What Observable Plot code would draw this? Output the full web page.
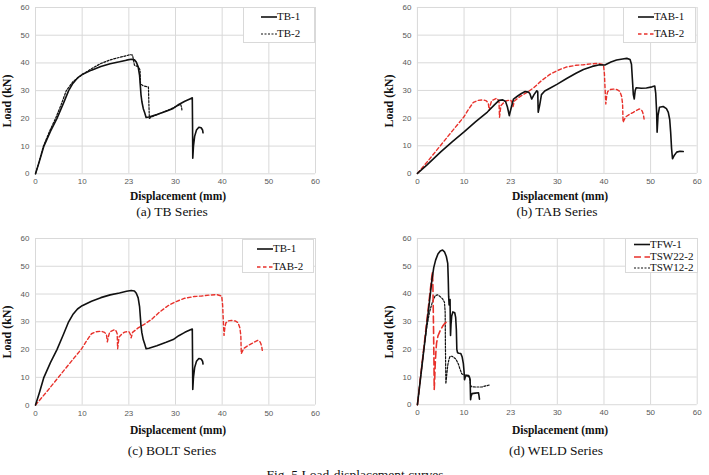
<!DOCTYPE html>
<html>
<head>
<meta charset="utf-8">
<script src="https://cdn.jsdelivr.net/npm/d3@7"></script>
<script src="https://cdn.jsdelivr.net/npm/@observablehq/plot@0.6"></script>
<style>
  html, body { margin: 0; padding: 0; background: #fff; }
  #fig { position: relative; width: 709px; height: 475px; overflow: hidden; background: #fff; }
  .panel { position: absolute; }
  .panel svg { overflow: visible; }
  .t { position: absolute; font-family: "Liberation Serif", "Times New Roman", serif; color: #111; white-space: nowrap; }
  .axt { font-weight: bold; font-size: 11.5px; transform: translateX(-50%); }
  .ayt { font-weight: bold; font-size: 12px; transform: translate(-50%, -50%) rotate(-90deg); }
  .cap { font-size: 13.5px; transform: translateX(-50%); }
  .legend { position: absolute; background: #fff; border: 1px solid #d9d9d9; box-sizing: border-box; }
  .legend svg { position: absolute; left: 0; top: 0; overflow: visible; }
  .legend span { position: absolute; font-family: "Liberation Serif", "Times New Roman", serif; font-size: 11px; color: #111; line-height: 1; transform: translateY(-52%); }
</style>
</head>
<body>
<div id="fig"></div>
<script>
// Load–displacement records, [displacement (mm), load (kN)]
const tb1 = [[0,0],[0.8,4.3],[1.8,10],[3.2,15.3],[4.6,20],[6,25.5],[7.1,30],[8,32.6],[9,34.6],[10,35.8],[12,37.4],[14,38.7],[16,39.7],[18,40.4],[19.5,41],[20.5,41.3],[21.2,41.1],[21.6,40.3],[22,38.6],[22.3,35.5],[22.5,31],[22.6,28.6],[22.8,26],[23.1,23.5],[23.4,22],[23.7,20.3],[24.3,20.5],[26,21.4],[28,22.6],[29.5,23.6],[30.7,25],[32,26.2],[33.2,27.1],[33.6,27.4],[33.65,18],[33.7,5.6],[33.85,10],[34.1,13.5],[34.5,15.8],[35,16.8],[35.5,16.6],[35.8,15.8],[35.9,14.8]];
const tb2 = [[0,0],[0.8,4.6],[1.7,10],[3,15.3],[4.3,20],[5.5,25],[6.6,30],[8,33.2],[10,35.8],[12,37.9],[14,39.8],[16,41.1],[18,42],[19.5,42.6],[20.3,43],[20.8,42.8],[21,41],[21.2,39.2],[22,38.6],[22.4,37.5],[22.5,32.5],[23,31.8],[24.2,31.3],[24.3,25],[24.4,20],[25,20.6],[27,22],[29,23.4],[30.5,24.6],[31.1,25.1],[31.3,24],[31.4,22.7]];
const tab1 = [[0,0],[2,3],[5,7.8],[7.5,11.5],[10,15],[12.5,18.7],[15,22.2],[16.5,24.8],[17.5,26.4],[18.3,26.6],[18.9,26],[19.3,24],[19.7,20.9],[20,23],[20.6,26.9],[21.5,28],[22.3,28.9],[23.1,29.6],[23.8,29.4],[24.1,28.9],[24.5,26.9],[25,28.5],[25.6,29.9],[25.8,29.5],[25.9,22.1],[26.2,24.5],[26.6,28.5],[27.3,29.8],[28.4,30.8],[30,32.3],[32,34.3],[34,36.2],[35.6,37.6],[37.5,38.7],[39.1,39.3],[40.2,39.2],[41.5,40.3],[42.7,41],[44,41.4],[44.9,41.6],[45.6,41.2],[45.9,39.5],[46.1,34],[46.3,28.5],[46.5,26.9],[46.7,30],[46.9,31],[48,30.8],[49.1,30.9],[50.3,31.3],[50.9,31.6],[51.1,29],[51.3,22],[51.4,14.9],[51.6,21],[51.9,23.9],[52.7,24.2],[53.4,23.4],[53.8,22.1],[54.1,19.5],[54.3,15],[54.5,9],[54.7,5.3],[55.1,6.6],[55.6,7.7],[56.3,8],[57,7.9]];
const tab2 = [[0,0],[2.5,5],[5,10.2],[7.5,15.4],[9.9,20.3],[11,23.3],[12,25.7],[13,26.4],[14.1,26.6],[14.8,26.2],[15.2,25.4],[15.4,22.8],[15.6,24.5],[15.9,26.3],[16.5,26.8],[17,27.2],[17.3,26.6],[17.5,25.7],[17.6,20.3],[17.9,24.5],[18.5,25.6],[19.1,26.3],[20,26.5],[20.3,25.6],[20.5,24.2],[20.8,26.2],[22,27.8],[23.5,29.3],[24.9,30.9],[26.5,33.4],[28.4,35.8],[30,37.2],[32,38.5],[34,39.1],[35.6,39.3],[37.2,39.6],[38.8,39.8],[39.9,39.3],[40.1,36],[40.2,32],[40.4,25.1],[40.6,28.2],[40.8,29.6],[41.3,30.3],[42,30.5],[42.8,30.3],[43.4,29.7],[43.8,27.8],[44,25],[44.1,18.5],[44.4,19.6],[44.7,20.5],[45.5,21.4],[46.3,22.1],[47,22.8],[47.6,23.3],[48.1,22.8],[48.3,22.1],[48.5,20.8],[48.6,19.7]];
const tfw1 = [[0,0],[0.8,11.5],[1.6,23],[2.4,34.5],[3.1,45],[3.5,49.5],[3.9,52.2],[4.4,54.4],[4.9,55.5],[5.4,55.8],[5.8,55.2],[6.2,53.5],[6.5,51],[6.6,46],[6.7,39],[6.8,36],[6.9,37],[7.0,38],[7.05,30],[7.1,25],[7.2,29],[7.35,32],[7.6,33.5],[8.0,33.2],[8.2,31.5],[8.35,27],[8.45,20],[8.6,18.8],[8.9,18.6],[9.3,18.5],[9.6,17.2],[9.85,14.8],[10.0,12],[10.1,9],[10.25,10],[10.5,10.6],[11.0,10.5],[11.2,9.8],[11.3,9],[11.4,1.8],[11.5,3],[11.7,4],[12.4,4.2],[13.1,4.3],[13.2,3.3],[13.3,2]];
const tsw22 = [[0,0],[0.8,12],[1.6,24],[2.4,36],[3.1,46.5],[3.25,48],[3.35,40],[3.45,28],[3.55,15],[3.6,5.5],[3.7,9],[3.8,14],[3.95,18.8],[4.1,22.2],[4.4,24.8],[4.9,26.8],[5.4,28.3],[5.8,29.2],[6.3,30]];
const tsw12 = [[0,0],[0.6,9],[1.3,19],[2.0,28],[2.6,33.5],[3.2,37],[3.8,39.3],[4.3,39.7],[4.9,39],[5.4,38.2],[5.8,37],[5.95,33.4],[6.0,22],[6.1,7.6],[6.3,11],[6.5,14.2],[6.75,16.3],[7.0,17.5],[7.4,17.5],[7.7,17.2],[8.1,16.7],[8.4,16],[8.8,14.6],[9.1,13],[9.5,11.2],[9.8,10.9],[10.1,10.8],[10.6,10.6],[11.1,10],[11.3,8.8],[11.4,7],[11.6,6.5],[12.5,6.4],[13.8,6.4],[14.7,6.8],[15.6,7.2]];

// axis ticks (the 20 mm tick is printed as "23" on these charts)
const xTicks = [0, 10, 20, 30, 40, 50, 60];
const xTickLabels = ["0", "10", "23", "30", "40", "50", "60"];
const yTicks = [0, 10, 20, 30, 40, 50, 60];

const RED = "#e8312b";
const styles = {
  solid:   {stroke: "#111", strokeWidth: 1.6},
  dotted:  {stroke: "#111", strokeWidth: 1.2, strokeDasharray: "2,1.5"},
  redDash: {stroke: RED, strokeWidth: 1.4, strokeDasharray: "3.5,2.5"},
  redLong: {stroke: RED, strokeWidth: 1.6, strokeDasharray: "7,3.5"}
};

const fig = document.getElementById("fig");

function addText(cls, text, left, top) {
  const el = document.createElement("div");
  el.className = "t " + cls;
  el.textContent = text;
  el.style.left = left + "px";
  el.style.top = top + "px";
  fig.appendChild(el);
}

// one load–displacement panel; frame = pixel box of the 0–60 × 0–60 area
function panel(frame, series) {
  const mL = 35, mR = 12, mT = 7, mB = 20;
  const w = frame.x1 - frame.x0, h = frame.y0 - frame.y1;
  const chart = Plot.plot({
    width: w + mL + mR,
    height: h + mT + mB,
    marginLeft: mL, marginRight: mR, marginTop: mT, marginBottom: mB,
    style: {fontFamily: "'Liberation Sans', Arial, sans-serif", fontSize: "8px", color: "#595959", background: "transparent"},
    x: {domain: [0, 60]},
    y: {domain: [0, 60]},
    marks: [
      Plot.gridX(xTicks, {stroke: "#d9d9d9", strokeOpacity: 1}),
      Plot.gridY(yTicks, {stroke: "#d9d9d9", strokeOpacity: 1}),
      Plot.axisX({ticks: xTicks, tickSize: 0, tickPadding: 5, tickFormat: (d, i) => xTickLabels[i], label: null, fill: "#595959"}),
      Plot.axisY({ticks: yTicks, tickSize: 0, tickPadding: 6, label: null, fill: "#595959"}),
      ...series.map(s => Plot.line(s.data, {x: d => d[0], y: d => d[1], ...styles[s.style]}))
    ]
  });
  const holder = document.createElement("div");
  holder.className = "panel";
  holder.style.left = (frame.x0 - mL) + "px";
  holder.style.top = (frame.y1 - mT) + "px";
  holder.appendChild(chart);
  fig.appendChild(holder);
}

// boxed key: rect in pixels, rows at given vertical offsets
function legend(box, rows) {
  const el = document.createElement("div");
  el.className = "legend";
  el.style.left = box.left + "px";
  el.style.top = box.top + "px";
  el.style.width = box.width + "px";
  el.style.height = box.height + "px";
  const ns = "http://www.w3.org/2000/svg";
  const svg = document.createElementNS(ns, "svg");
  svg.setAttribute("width", box.width);
  svg.setAttribute("height", box.height);
  rows.forEach(r => {
    const st = styles[r.style];
    const ln = document.createElementNS(ns, "line");
    ln.setAttribute("x1", box.sample);
    ln.setAttribute("x2", box.sample + 16);
    ln.setAttribute("y1", r.dy);
    ln.setAttribute("y2", r.dy);
    ln.setAttribute("stroke", st.stroke);
    ln.setAttribute("stroke-width", st.strokeWidth);
    if (st.strokeDasharray) ln.setAttribute("stroke-dasharray", st.strokeDasharray);
    svg.appendChild(ln);
    const sp = document.createElement("span");
    sp.textContent = r.label;
    sp.style.left = (box.sample + 16) + "px";
    sp.style.top = r.dy + "px";
    el.appendChild(sp);
  });
  el.appendChild(svg);
  fig.appendChild(el);
}

const fA = {x0: 35, x1: 315, y1: 6.7, y0: 173};
const fB = {x0: 417.3, x1: 697.7, y1: 6.7, y0: 173};
const fC = {x0: 35, x1: 315, y1: 237.7, y0: 404.3};
const fD = {x0: 417.3, x1: 697.7, y1: 237.7, y0: 404.3};

panel(fA, [{data: tb2, style: "dotted"}, {data: tb1, style: "solid"}]);
panel(fB, [{data: tab2, style: "redDash"}, {data: tab1, style: "solid"}]);
panel(fC, [{data: tab2, style: "redDash"}, {data: tb1, style: "solid"}]);
panel(fD, [{data: tsw12, style: "dotted"}, {data: tsw22, style: "redLong"}, {data: tfw1, style: "solid"}]);

legend({left: 243, top: 7, width: 72, height: 36, sample: 17}, [
  {label: "TB-1", style: "solid", dy: 9}, {label: "TB-2", style: "dotted", dy: 26}]);
legend({left: 623, top: 7, width: 73, height: 36, sample: 14}, [
  {label: "TAB-1", style: "solid", dy: 9}, {label: "TAB-2", style: "redDash", dy: 26}]);
legend({left: 242, top: 239, width: 72, height: 34, sample: 14}, [
  {label: "TB-1", style: "solid", dy: 9}, {label: "TAB-2", style: "redDash", dy: 27}]);
legend({left: 625, top: 238, width: 73, height: 35, sample: 8}, [
  {label: "TFW-1", style: "solid", dy: 5.5}, {label: "TSW22-2", style: "redLong", dy: 18}, {label: "TSW12-2", style: "dotted", dy: 29}]);

// axis titles and captions
addText("axt", "Displacement (mm)", 178, 190);
addText("axt", "Displacement (mm)", 560, 190);
addText("axt", "Displacement (mm)", 178, 424);
addText("axt", "Displacement (mm)", 560, 424);
addText("ayt", "Load (kN)", 7, 101);
addText("ayt", "Load (kN)", 389, 101);
addText("ayt", "Load (kN)", 7, 332);
addText("ayt", "Load (kN)", 389, 332);
addText("cap", "(a) TB Series", 172, 204);
addText("cap", "(b) TAB Series", 557, 204);
addText("cap", "(c) BOLT Series", 172, 443);
addText("cap", "(d) WELD Series", 556, 443);
addText("cap", "Fig. 5 Load-displacement curves", 355, 467);
</script>
</body>
</html>
